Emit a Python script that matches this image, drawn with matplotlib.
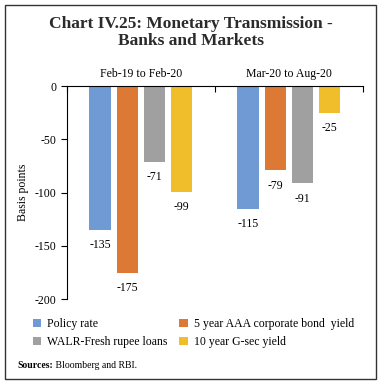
import numpy as np
import matplotlib.pyplot as plt
from matplotlib.patches import Rectangle

plt.rcParams['font.family'] = ['Liberation Serif', 'DejaVu Serif']

periods = ['Feb-19 to Feb-20', 'Mar-20 to Aug-20']
series_names = ['Policy rate', '5 year AAA corporate bond  yield',
                'WALR-Fresh rupee loans', '10 year G-sec yield']
policy_rate = [-135, -115]
corp_bond = [-175, -79]
walr_fresh = [-71, -91]
gsec_10y = [-99, -25]
colors = ['#6F9AD4', '#DC7A35', '#A0A0A0', '#F0BE2B']


def main():
    fig = plt.figure(figsize=(3.82, 3.83), dpi=100)
    ax = fig.add_axes([0.175, 0.219, 0.775, 0.556])

    values = [policy_rate, corp_bond, walr_fresh, gsec_10y]
    x = np.arange(len(periods))
    width = 0.145
    step = 0.184
    offsets = (np.arange(4) - 1.5) * step

    handles = []
    for i, vals in enumerate(values):
        bars = ax.bar(x + offsets[i], vals, width, color=colors[i], label=series_names[i])
        handles.append(bars)
        for xi, v in zip(x + offsets[i], vals):
            ax.text(xi, v - 9, str(v), ha='center', va='top', fontsize=8.5)

    ax.set_xlim(-0.5, 1.5)
    ax.set_ylim(-200, 0)
    ax.set_yticks([0, -50, -100, -150, -200])
    ax.set_yticklabels(['0', '-50', '-100', '-150', '-200'], fontsize=8.5)
    ax.set_ylabel('Basis points', fontsize=8.5, labelpad=4)

    # category axis sits at the top (zero line)
    ax.set_xticks([-0.5, 0.5, 1.5])
    ax.set_xticklabels([])
    ax.xaxis.set_ticks_position('top')
    ax.tick_params(axis='x', direction='in', length=4, width=0.8)
    ax.tick_params(axis='y', direction='out', length=4, width=0.8)
    for i, p in enumerate(periods):
        ax.text(i, 6, p, ha='center', va='bottom', fontsize=8.5)

    for s in ['right', 'bottom']:
        ax.spines[s].set_visible(False)
    ax.spines['top'].set_linewidth(0.8)
    ax.spines['left'].set_linewidth(0.8)

    fig.text(0.5, 0.915, 'Chart IV.25: Monetary Transmission -\nBanks and Markets',
             ha='center', va='center', fontsize=12.5, fontweight='bold',
             color='#2B2B2B', linespacing=1.1)

    # legend fills column-wise, so reorder to read row-wise like the original
    order = [0, 2, 1, 3]
    fig.legend(handles=[handles[i] for i in order], labels=[series_names[i] for i in order],
               loc='lower left', bbox_to_anchor=(0.065, 0.07),
               ncol=2, frameon=False, fontsize=8.5, handlelength=0.7,
               handleheight=0.7, handletextpad=0.5, columnspacing=1.0,
               labelspacing=0.5, borderpad=0.2)

    src = fig.text(0.045, 0.04, 'Sources:', fontsize=7, fontweight='bold')
    ax.annotate(' Bloomberg and RBI.', xy=(1, 0), xycoords=src, va='bottom',
                fontsize=7, annotation_clip=False)

    fig.patches.append(Rectangle((0.013, 0.011), 0.972, 0.977, transform=fig.transFigure,
                                 fill=False, edgecolor='#333333', linewidth=1.0))

    fig.savefig('out.png', dpi=100)


if __name__ == '__main__':
    main()
